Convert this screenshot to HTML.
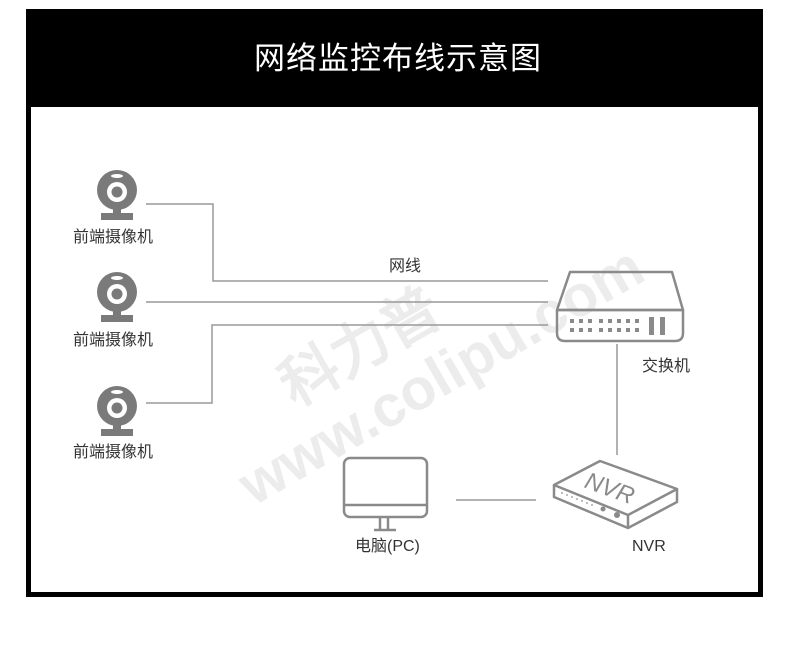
<!DOCTYPE html>
<html><head><meta charset="utf-8"><style>
body{margin:0;width:790px;height:663px;background:#fff;position:relative;overflow:hidden;font-family:"Liberation Sans","Noto Sans CJK SC",sans-serif}
.frame{position:absolute;left:26px;top:9px;width:737px;height:588px;background:#000}
.inner{position:absolute;left:31px;top:107px;width:727px;height:485px;background:#fff}
.title{position:absolute;left:26px;top:38px;width:744px;text-align:center;color:#fff;font-size:31px;line-height:42px;letter-spacing:1px}
.lbl{position:absolute;font-size:16px;color:#333;white-space:nowrap;line-height:20px}
</style></head><body>
<div class="frame"></div><div class="inner"></div>
<div class="title">网络监控布线示意图</div>
<svg width="790" height="663" style="position:absolute;left:0;top:0">
<g transform="rotate(-30 400 370)" fill="#ececec" font-family="Liberation Sans,sans-serif" font-weight="bold">
<text x="290" y="350" font-size="58">科力普</text>
<text x="205" y="415" font-size="58">www.colipu.com</text>
</g>
<defs>
<g id="cam">
<circle cx="0" cy="0" r="20" fill="#7a7a7a"/>
<circle cx="0" cy="2" r="10" fill="#fff"/>
<circle cx="0" cy="2" r="5.5" fill="#7a7a7a"/>
<ellipse cx="0" cy="-14" rx="6" ry="2" fill="#fff"/>
<rect x="-4" y="18" width="8" height="6" fill="#7a7a7a"/>
<rect x="-16" y="23" width="32" height="7" fill="#7a7a7a"/>
</g>
</defs>
<use href="#cam" x="117" y="190"/>
<use href="#cam" x="117" y="292"/>
<use href="#cam" x="117" y="406"/>
<g stroke="#999" stroke-width="1.5" fill="none">
<polyline points="146,204 213,204 213,281 548,281"/>
<line x1="146" y1="302" x2="548" y2="302"/>
<polyline points="146,403 212,403 212,325 548,325"/>
<line x1="617" y1="344" x2="617" y2="455"/>
<line x1="456" y1="500" x2="536" y2="500"/>
</g>
<g stroke="#8a8a8a" stroke-width="2.5" fill="none" stroke-linejoin="round">
<path d="M570,272 L672,272 L683,310 L557,310 Z"/>
<path d="M557,310 L683,310 L683,333 Q683,341 675,341 L565,341 Q557,341 557,333 Z"/>
<rect x="344" y="458" width="83" height="59" rx="6"/>
<line x1="344" y1="505" x2="427" y2="505"/>
<path d="M380,518 L380,529 M388,518 L388,529 M374,530 L396,530"/>
<path d="M554,485 L600,461 L677,489 L628,515 Z"/>
<path d="M554,485 L554,497 L628,528 L677,502 L677,489 M628,515 L628,528"/>
</g>
<g fill="#8a8a8a">
<g id="pr"><rect x="570" y="319" width="4" height="4"/><rect x="579" y="319" width="4" height="4"/><rect x="588" y="319" width="4" height="4"/><rect x="599" y="319" width="4" height="4"/><rect x="608" y="319" width="4" height="4"/><rect x="617" y="319" width="4" height="4"/><rect x="626" y="319" width="4" height="4"/><rect x="635" y="319" width="4" height="4"/></g>
<use href="#pr" y="9"/>
<rect x="649" y="317" width="5" height="18"/><rect x="660" y="317" width="5" height="18"/>
<circle cx="617" cy="515" r="3"/>
<circle cx="603" cy="509" r="2.5"/>
</g>
<text x="610" y="497" font-size="24" font-style="italic" fill="#8a8a8a" font-family="Liberation Sans,sans-serif" transform="rotate(20 612 488)" text-anchor="middle">NVR</text>
<g fill="#aaa"><circle cx="562" cy="493" r="1"/><circle cx="567" cy="495" r="1"/><circle cx="572" cy="497" r="1"/><circle cx="577" cy="499" r="1"/><circle cx="582" cy="501" r="1"/><circle cx="587" cy="503" r="1"/><circle cx="592" cy="505" r="1"/></g>
</svg>
<div class="lbl" style="left:73px;top:228px">前端摄像机</div>
<div class="lbl" style="left:73px;top:331px">前端摄像机</div>
<div class="lbl" style="left:73px;top:443px">前端摄像机</div>
<div class="lbl" style="left:389px;top:257px">网线</div>
<div class="lbl" style="left:642px;top:357px">交换机</div>
<div class="lbl" style="left:355px;top:537px">电脑(PC)</div>
<div class="lbl" style="left:632px;top:537px">NVR</div>
</body></html>
